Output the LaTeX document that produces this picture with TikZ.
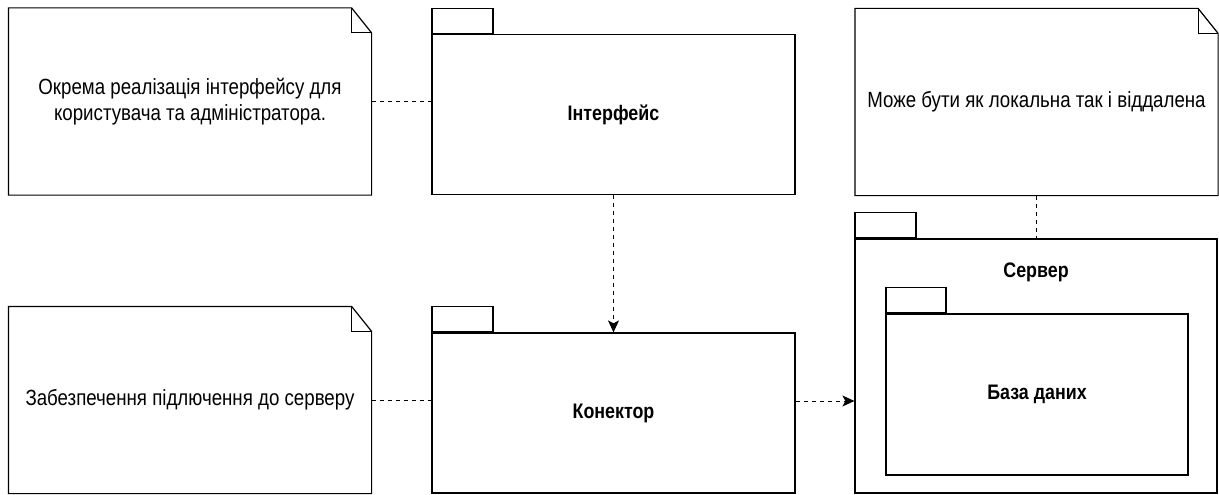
\documentclass[tikz,border=0pt]{standalone}
\usepackage{fontspec}
\setmainfont[FakeStretch=0.85]{Liberation Sans}
\usepackage{tikz}
\usetikzlibrary{arrows.meta}

\begin{document}
\begin{tikzpicture}[x=1pt,y=-1pt,line width=1.2pt,
	note/.style={minimum width=362pt, minimum height=186pt, inner sep=0pt, align=center, font=\fontsize{22}{26}\selectfont},
	pkg/.style={draw, minimum width=363pt, minimum height=160pt, inner sep=0pt, font=\bfseries\fontsize{21}{26}\selectfont},
	pkgtab/.style={draw, minimum width=61pt, minimum height=25pt, inner sep=0pt, anchor=south west},
	link/.style={dash pattern=on 4pt off 4pt, line width=1pt},
	dep/.style={link, -{Stealth[length=12pt,width=11pt,inset=3pt]}}]
\useasboundingbox (0,0) rectangle (1219,495);
% notes
\node [note] (n1) at (190,101.5) {Окрема реалізація інтерфейсу для\\користувача та адміністратора.};
\node [note] (n2) at (1036.5,102) {Може бути як локальна так і віддалена};
\node [note] (n3) at (190,400) {Забезпечення підлючення до серверу};
\foreach \n in {n1,n2,n3} {
	\draw (\n.south west) -- (\n.north west) -- ([xshift=-20pt]\n.north east)
		-- ([yshift=-25pt]\n.north east) -- (\n.south east) -- cycle;
	\draw ([xshift=-20pt]\n.north east) -- ([xshift=-20pt,yshift=-25pt]\n.north east)
		-- ([yshift=-25pt]\n.north east);
}
% packages
\node [pkg] (iface) at (613.5,114.5) {Інтерфейс};
\node [pkgtab] (ifacetab) at (iface.north west) {};
\node [pkg] (conn) at (613.5,413) {Конектор};
\node [pkgtab] (conntab) at (conn.north west) {};
\node [pkg, minimum width=362pt, minimum height=254pt] (srv) at (1036,366) {};
\node [pkgtab] (srvtab) at (srv.north west) {};
\node [font=\bfseries\fontsize{21}{26}\selectfont] (srvlabel) at (1036,272) {Сервер};
\node [pkg, minimum width=302pt, minimum height=161pt] (db) at (1037,394.5) {База даних};
\node [pkgtab, minimum width=60pt] (dbtab) at (db.north west) {};
% links
\draw [link] (n1.east) -- (n1.east -| iface.west);
\draw [link] (n3.east) -- (n3.east -| conn.west);
\draw [link] (n2.south) -- (srv.north -| n2.south);
\draw [dep] (iface.south) -- (conn.north);
\draw [dep] ([yshift=12pt]conn.east) -- ([yshift=12pt]conn.east -| srv.west);
\end{tikzpicture}
\end{document}
